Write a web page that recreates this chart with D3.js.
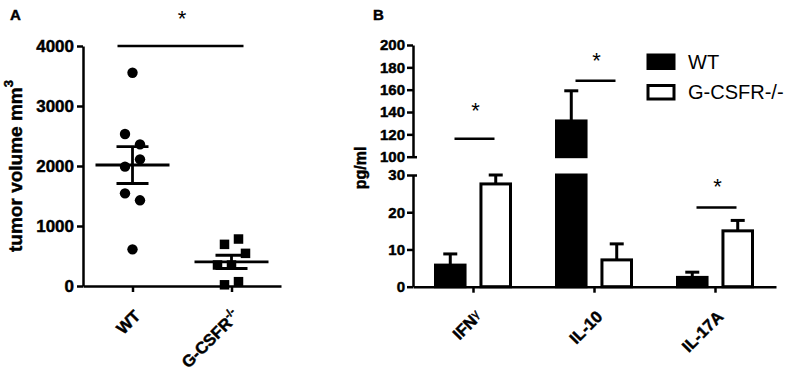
<!DOCTYPE html>
<html>
<head>
<meta charset="utf-8">
<script src="https://cdn.jsdelivr.net/npm/d3@7"></script>
<style>
body { margin: 0; background: #fff; }
text { font-family: "Liberation Sans", Arial, sans-serif; fill: #000; }
.heavy { stroke: #000; stroke-width: 0.45px; }
</style>
</head>
<body>
<svg id="chart" width="785" height="373"></svg>
<script>
// ---- panel A: tumor volume ----
var groupsA = ["WT", "G-CSFR"]
var wtVolumes = [611, 1544, 1428, 1989, 2111, 2533, 2361, 3555]
var koVolumes = [20, 72, 350, 350, 544, 694, 783]
var volumeTicks = [0, 1000, 2000, 3000, 4000]
var sigA = 4000, starA = 4550

// ---- panel B: cytokines ----
var cytokines = ["IFNγ", "IL-10", "IL-17A"]
var series = ["WT", "G-CSFR-/-"]
var wtMeans = [5.8, 132, 2.5]
var wtErrors = [3.0, 27, 1.4]
var koMeans = [27.6, 7.2, 15]
var koErrors = [2.4, 4.3, 2.8]
var upperTicks = [100, 120, 140, 160, 180, 200]
var lowerTicks = [0, 10, 20, 30]
var sigLevels = [116, 168, 21.3]
var starLevels = [146, 191, 28.4]

var svg = d3.select("#chart")

//////////////// panel A
var dimA = { left: 83, right: 281, top: 46, bottom: 286 }

var xA = d3.scalePoint()
        .domain(groupsA)
        .range([dimA.left, dimA.right])
        .padding(0.5)

var yA = d3.scaleLinear()
        .domain([0, 4000])
        .range([dimA.bottom, dimA.top])

var gA = svg.append("g")

// scatter with symmetric offsets for points that would overlap (like prism)
function spread(values, step) {
    var idx = values.map((v, i) => i).sort((a, b) => values[a] - values[b])
    var groups = [], cur = []
    idx.forEach(function(i) {
        if (cur.length && Math.abs(yA(values[i]) - yA(values[cur[0]])) >= 12) {
            groups.push(cur); cur = []
        }
        cur.push(i)
    })
    if (cur.length) groups.push(cur)
    var off = []
    groups.forEach(function(g) {
        g.sort((a, b) => a - b)
        g.forEach((i, k) => off[i] = (k - (g.length - 1) / 2) * step)
    })
    return off
}

var wtOff = spread(wtVolumes, 15)
var koOff = spread(koVolumes, 14)

gA.selectAll("circle")
    .data(wtVolumes)
    .enter()
    .append("circle")
    .attr("cx", (d, i) => xA("WT") + wtOff[i])
    .attr("cy", d => yA(d))
    .attr("r", 5.2)
    .attr("fill", "black")

var sq = 9.5
gA.selectAll("rect.pt")
    .data(koVolumes)
    .enter()
    .append("rect")
    .attr("class", "pt")
    .attr("x", (d, i) => xA("G-CSFR") + koOff[i] - sq / 2)
    .attr("y", d => yA(d) - sq / 2)
    .attr("width", sq)
    .attr("height", sq)
    .attr("fill", "black")

// mean +- sem
;[["WT", wtVolumes], ["G-CSFR", koVolumes]].forEach(function(p) {
    var m = d3.mean(p[1])
    var sem = d3.deviation(p[1]) / Math.sqrt(p[1].length)
    var cx = xA(p[0])
    var g = gA.append("g").attr("stroke", "black").attr("stroke-width", 2.8)
    g.append("line").attr("x1", cx - 37).attr("x2", cx + 37).attr("y1", yA(m)).attr("y2", yA(m))
    g.append("line").attr("x1", cx).attr("x2", cx).attr("y1", yA(m - sem)).attr("y2", yA(m + sem))
    g.append("line").attr("x1", cx - 16).attr("x2", cx + 16).attr("y1", yA(m + sem)).attr("y2", yA(m + sem))
    g.append("line").attr("x1", cx - 16).attr("x2", cx + 16).attr("y1", yA(m - sem)).attr("y2", yA(m - sem))
})

var yAxisA = gA.append("g")
    .attr("transform", `translate(${dimA.left},0)`)
    .call(d3.axisLeft(yA).tickValues(volumeTicks).tickFormat(d3.format("d"))
          .tickSize(6).tickSizeOuter(0).tickPadding(3))
yAxisA.attr("font-size", null).attr("font-family", null)
yAxisA.selectAll("path, line").attr("stroke-width", 2.5)
yAxisA.selectAll("text").attr("font-size", 17).attr("font-weight", "bold").attr("class", "heavy")

var xAxisA = gA.append("g")
    .attr("transform", `translate(0,${dimA.bottom})`)
    .call(d3.axisBottom(xA).tickSize(6).tickSizeOuter(0).tickFormat(""))
xAxisA.selectAll("path, line").attr("stroke-width", 2.5)

// rotated category labels
gA.selectAll("text.xlab")
    .data(groupsA)
    .enter()
    .append("text")
    .attr("class", "xlab heavy")
    .attr("text-anchor", "end")
    .attr("font-size", 16.5)
    .attr("font-weight", "bold")
    .attr("transform", d => `translate(${xA(d) + 9},${dimA.bottom + 31}) rotate(-45)`)
    .each(function(d) {
        var t = d3.select(this)
        t.append("tspan").text(d)
        if (d == "G-CSFR") t.append("tspan").attr("dy", -7).attr("font-size", 11).text("-/-")
    })

var yTitleA = gA.append("text")
    .attr("class", "heavy")
    .attr("transform", `translate(22,${(dimA.top + dimA.bottom) / 2}) rotate(-90)`)
    .attr("text-anchor", "middle")
    .attr("font-size", 19)
    .attr("font-weight", "bold")
yTitleA.append("tspan").text("tumor volume mm")
yTitleA.append("tspan").attr("dy", -9).attr("font-size", 13).text("3")

// significance
gA.append("line")
    .attr("x1", xA("WT") - 15).attr("x2", xA("G-CSFR") + 12)
    .attr("y1", yA(sigA)).attr("y2", yA(sigA))
    .attr("stroke", "black").attr("stroke-width", 2.5)
gA.append("text")
    .attr("x", (xA("WT") + xA("G-CSFR")) / 2)
    .attr("y", yA(starA) + 13)
    .attr("text-anchor", "middle")
    .attr("font-size", 22)
    .text("*")

svg.append("text").attr("x", 10).attr("y", 20).attr("class", "heavy")
    .attr("font-size", 15).attr("font-weight", "bold").text("A")

//////////////// panel B
var dimB = { left: 413, right: 776, bottom: 286.7 }

var xB = d3.scaleBand()
        .domain(cytokines)
        .range([dimB.left, dimB.right])
        .padding(0)

var xInner = d3.scaleBand()
        .domain(series)
        .range([22.5, 97.5])
        .paddingInner(0.35)

var yLow = d3.scaleLinear().domain([0, 30]).range([dimB.bottom, 175])
var yUp = d3.scaleLinear().domain([100, 200]).range([156.7, 45])
var yB = v => v > 30 ? yUp(v) : yLow(v)

var barData = []
cytokines.forEach(function(c, i) {
    barData.push({ cat: c, s: "WT", v: wtMeans[i], e: wtErrors[i] })
    barData.push({ cat: c, s: "G-CSFR-/-", v: koMeans[i], e: koErrors[i] })
})

var gB = svg.append("g")

var bars = gB.selectAll("g.bar")
    .data(barData)
    .enter()
    .append("g")
    .attr("class", "bar")

// error bars first so the bar covers the stem
bars.each(function(d) {
    var cx = xB(d.cat) + xInner(d.s) + xInner.bandwidth() / 2
    var g = d3.select(this).append("g").attr("stroke", "black").attr("stroke-width", 3)
    g.append("line").attr("x1", cx).attr("x2", cx).attr("y1", yB(d.v)).attr("y2", yB(d.v + d.e))
    g.append("line").attr("x1", cx - 7).attr("x2", cx + 7).attr("y1", yB(d.v + d.e)).attr("y2", yB(d.v + d.e))
})

bars.each(function(d) {
    var x = xB(d.cat) + xInner(d.s)
    var fill = d.s == "WT" ? "black" : "white"
    var g = d3.select(this)
    var segs = d.v > 30 ? [[0, 30, yLow], [100, d.v, yUp]] : [[0, d.v, yLow]]
    segs.forEach(function(s) {
        g.append("rect")
            .attr("x", x)
            .attr("y", s[2](s[1]))
            .attr("width", xInner.bandwidth())
            .attr("height", s[2](s[0]) - s[2](s[1]))
            .attr("fill", fill)
            .attr("stroke", "black")
            .attr("stroke-width", 3)
    })
})

function styleAxis(ax, size) {
    ax.attr("font-size", null).attr("font-family", null)
    ax.selectAll("path, line").attr("stroke-width", 2.5)
    ax.selectAll("text").attr("font-size", size).attr("font-weight", "bold").attr("class", "heavy")
}

var yAxisUp = gB.append("g")
    .attr("transform", `translate(${dimB.left},0)`)
    .call(d3.axisLeft(yUp).tickValues(upperTicks).tickSize(6).tickSizeOuter(0).tickPadding(2))
styleAxis(yAxisUp, 15)
yAxisUp.selectAll(".tick line").filter(d => d == 100).attr("x1", 4)

var yAxisLow = gB.append("g")
    .attr("transform", `translate(${dimB.left},0)`)
    .call(d3.axisLeft(yLow).tickValues(lowerTicks).tickSize(6).tickSizeOuter(0).tickPadding(2))
styleAxis(yAxisLow, 15)
yAxisLow.selectAll(".tick line").filter(d => d == 30).attr("x1", 4)

var xAxisB = gB.append("g")
    .attr("transform", `translate(0,${dimB.bottom})`)
    .call(d3.axisBottom(xB).tickSize(6).tickSizeOuter(0).tickFormat(""))
styleAxis(xAxisB, 16)

gB.selectAll("text.xlab")
    .data(cytokines)
    .enter()
    .append("text")
    .attr("class", "xlab heavy")
    .attr("text-anchor", "end")
    .attr("font-size", 16.5)
    .attr("font-weight", "bold")
    .attr("transform", d => `translate(${xB(d) + xB.bandwidth() / 2 + 9},${dimB.bottom + 31}) rotate(-45)`)
    .each(function(d) {
        var t = d3.select(this)
        if (d == "IFNγ") {
            t.append("tspan").text("IFN")
            t.append("tspan").attr("dy", -4).attr("font-size", 12).attr("font-weight", "normal").text("γ")
        } else {
            t.append("tspan").text(d)
        }
    })

gB.append("text")
    .attr("class", "heavy")
    .attr("transform", `translate(366,168) rotate(-90)`)
    .attr("text-anchor", "middle")
    .attr("font-size", 16)
    .attr("font-weight", "bold")
    .text("pg/ml")

// significance bars
cytokines.forEach(function(c, i) {
    var cx = xB(c) + xB.bandwidth() / 2
    gB.append("line")
        .attr("x1", cx - 19).attr("x2", cx + 21)
        .attr("y1", yB(sigLevels[i])).attr("y2", yB(sigLevels[i]))
        .attr("stroke", "black").attr("stroke-width", 2.5)
    gB.append("text")
        .attr("x", cx + 2)
        .attr("y", yB(starLevels[i]) + 13)
        .attr("text-anchor", "middle")
        .attr("font-size", 22)
        .text("*")
})

// legend
var legend = gB.selectAll("g.leg")
    .data(series)
    .enter()
    .append("g")
    .attr("class", "leg")
    .attr("transform", (d, i) => `translate(648,${55 + i * 30.5})`)
legend.append("rect")
    .attr("width", 26).attr("height", 13.5)
    .attr("fill", (d, i) => i == 0 ? "black" : "white")
    .attr("stroke", "black").attr("stroke-width", 3)
legend.append("text")
    .attr("x", 40).attr("y", 13.5)
    .attr("font-size", 20)
    .text(d => d)

svg.append("text").attr("x", 373).attr("y", 20).attr("class", "heavy")
    .attr("font-size", 15).attr("font-weight", "bold").text("B")
</script>
</body>
</html>
